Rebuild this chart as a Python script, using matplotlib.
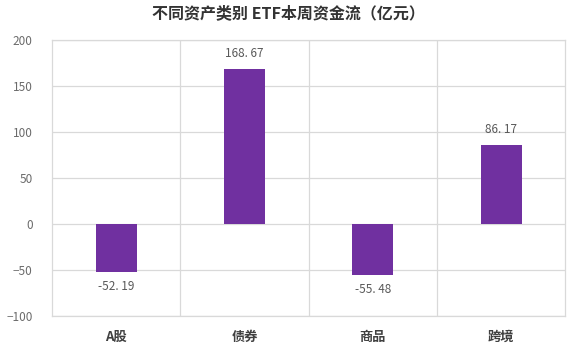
import numpy as np
from matplotlib import pyplot as plt

plt.rcParams['font.family'] = ['Noto Sans CJK SC', 'DejaVu Sans']

#%% data
categories = ["A股", "债券", "商品", "跨境"]
flows = [-52.19, 168.67, -55.48, 86.17]   # 亿元

bar_color = '#7030A0'
grid_color = '#D9D9D9'

#%% plot
fig = plt.figure(figsize=(5.76, 3.57), dpi=100)
ax = fig.add_axes([0.0903, 0.115, 0.891, 0.773])

x = np.arange(len(categories))
ax.bar(x, flows, width=0.32, color=bar_color, zorder=3)

for xi, v in zip(x, flows):
    txt = f"{v:.2f}".replace('.', '. ')
    if v >= 0:
        ax.annotate(txt, (xi, v), xytext=(0, 6), textcoords='offset points',
                    ha='center', va='bottom', fontsize=8.5, color='#595959')
    else:
        ax.annotate(txt, (xi, v), xytext=(0, -6), textcoords='offset points',
                    ha='center', va='top', fontsize=8.5, color='#595959')

ax.set_xlim(-0.5, len(categories) - 0.5)
ax.set_ylim(-100, 200)
ax.set_yticks(np.arange(-100, 201, 50))
ax.set_xticks(x)
ax.set_xticklabels(categories, fontsize=9.5, fontweight='bold', color='#404040')

# horizontal grid + vertical separators between categories
ax.yaxis.grid(True, color=grid_color, linewidth=0.9, zorder=0)
for b in np.arange(0.5, len(categories) - 0.5, 1):
    ax.axvline(b, color=grid_color, linewidth=0.9, zorder=0)
for s in ax.spines.values():
    s.set_color(grid_color)
    s.set_linewidth(0.9)

ax.tick_params(axis='both', length=0)
ax.tick_params(axis='y', labelsize=8.5, labelcolor='#6B6B6B', pad=14)
ax.tick_params(axis='x', pad=10)

fig.suptitle("不同资产类别 ETF本周资金流（亿元）", x=0.5, y=0.985,
             fontsize=11.5, fontweight='bold', color='#333333')

fig.savefig("out.png", dpi=100)
